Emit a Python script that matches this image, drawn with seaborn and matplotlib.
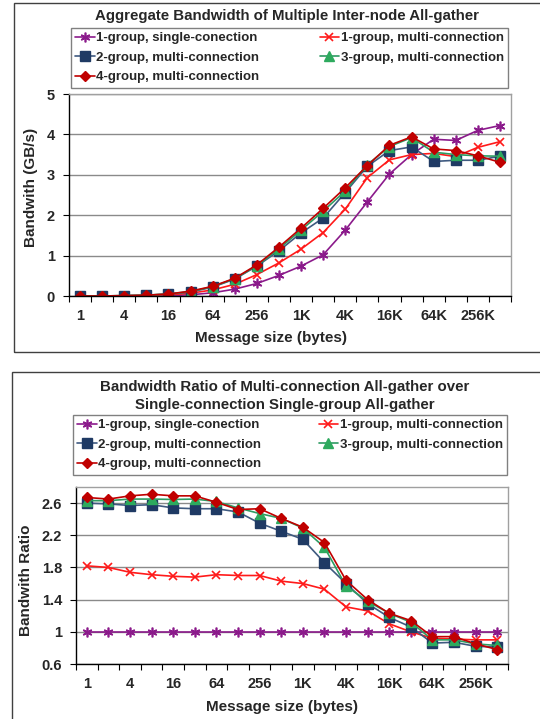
import matplotlib
matplotlib.use("Agg")
import matplotlib.pyplot as plt
import matplotlib.patches as patches
import seaborn as sns
import numpy as np
import pandas as pd

# message sizes (categories) and tick labels
sizes = ['1', '2', '4', '8', '16', '32', '64', '128', '256', '512',
         '1K', '2K', '4K', '8K', '16K', '32K', '64K', '128K', '256K', '512K']
tick_labels = ['1', '4', '16', '64', '256', '1K', '4K', '16K', '64K', '256K']

series_names = ['1-group, single-conection', '1-group, multi-connection',
                '2-group, multi-connection', '3-group, multi-connection',
                '4-group, multi-connection']

# aggregate bandwidth (GB/s)
bw_1g_single = [0.0, 0.0, 0.0, 0.0, 0.01, 0.03, 0.08, 0.17, 0.31, 0.51,
                0.74, 1.02, 1.63, 2.33, 3.02, 3.50, 3.88, 3.85, 4.10, 4.22]
bw_1g_multi = [0.0, 0.0, 0.0, 0.01, 0.03, 0.07, 0.15, 0.29, 0.53, 0.82,
               1.16, 1.57, 2.15, 2.93, 3.37, 3.50, 3.53, 3.45, 3.68, 3.82]
bw_2g_multi = [0.0, 0.0, 0.01, 0.02, 0.05, 0.10, 0.22, 0.42, 0.74, 1.12,
               1.56, 1.93, 2.56, 3.21, 3.60, 3.69, 3.33, 3.36, 3.36, 3.46]
bw_3g_multi = [0.0, 0.0, 0.01, 0.02, 0.05, 0.11, 0.23, 0.43, 0.75, 1.17,
               1.63, 2.10, 2.60, 3.25, 3.70, 3.92, 3.56, 3.50, 3.47, 3.46]
bw_4g_multi = [0.0, 0.0, 0.01, 0.02, 0.05, 0.12, 0.24, 0.44, 0.77, 1.21,
               1.68, 2.17, 2.68, 3.23, 3.73, 3.94, 3.64, 3.60, 3.47, 3.31]

# bandwidth ratio over 1-group single-connection
ratio_1g_single = [1.0] * 20
ratio_1g_multi = [1.82, 1.80, 1.74, 1.71, 1.69, 1.68, 1.71, 1.70, 1.70, 1.63,
                  1.60, 1.53, 1.31, 1.26, 1.10, 1.00, 0.92, 0.91, 0.90, 0.90]
ratio_2g_multi = [2.60, 2.59, 2.57, 2.58, 2.54, 2.53, 2.53, 2.49, 2.35, 2.25,
                  2.15, 1.86, 1.60, 1.35, 1.18, 1.06, 0.86, 0.87, 0.82, 0.81]
ratio_3g_multi = [2.63, 2.63, 2.65, 2.65, 2.645, 2.65, 2.62, 2.54, 2.47, 2.41,
                  2.29, 2.05, 1.57, 1.38, 1.23, 1.12, 0.90, 0.90, 0.85, 0.83]
ratio_4g_multi = [2.67, 2.65, 2.69, 2.71, 2.69, 2.69, 2.61, 2.52, 2.53, 2.41,
                  2.30, 2.11, 1.64, 1.40, 1.23, 1.14, 0.94, 0.94, 0.85, 0.78]

ratio_ticks = [0.6, 1.0, 1.4, 1.8, 2.2, 2.6]
ratio_tick_labels = ['0.6', '1', '1.4', '1.8', '2.2', '2.6']

styles = [
    dict(color='#8B1A8B', marker=(6, 2, 0), ms=7, mfc='#8B1A8B', mec='#8B1A8B', mew=1.2),
    dict(color='#FF1A1A', marker='x', ms=6, mfc='#FF1A1A', mec='#FF1A1A', mew=1.2),
    dict(color='#3F5A80', marker='s', ms=6.5, mfc='#1F3A64', mec='#1F3A64', mew=1),
    dict(color='#2E9B62', marker='^', ms=6.5, mfc='#2EAA5E', mec='#2EAA5E', mew=1),
    dict(color='#C00000', marker='D', ms=5.5, mfc='#C00000', mec='#C00000', mew=1),
]

sns.set_theme(style="white")
plt.rcParams['font.family'] = ['Liberation Sans', 'DejaVu Sans']
plt.rcParams['font.weight'] = 'bold'


def draw_panel(ax, series, ylim, yticks, ytick_labels, ylabel, ylabel_pos, xlabel_pos):
    pos = np.arange(len(sizes))
    for name, vals, st in zip(series_names, series, styles):
        df = pd.DataFrame({'pos': pos, 'value': vals})
        sns.lineplot(data=df, x='pos', y='value', ax=ax, label=name,
                     color=st['color'], marker=st['marker'], markersize=st['ms'],
                     markerfacecolor=st['mfc'], markeredgecolor=st['mec'],
                     markeredgewidth=st['mew'], linewidth=1.2)
    ax.set_xlim(-0.5, len(sizes) - 0.5)
    ax.set_ylim(*ylim)
    ax.set_xticks(pos[::2])
    ax.set_xticklabels(tick_labels, fontsize=10.5, fontweight='bold')
    ax.set_xticks(np.arange(-0.5, len(sizes), 1), minor=True)
    ax.tick_params(axis='x', which='major', length=0, pad=9)
    ax.tick_params(axis='x', which='minor', length=4, width=0.8, color='black',
                   direction='out', bottom=True)
    ax.set_yticks(yticks)
    ax.set_yticklabels(ytick_labels, fontsize=10.5, fontweight='bold')
    ax.tick_params(axis='y', length=4, width=0.8, color='black', direction='out',
                   left=True, pad=6)
    ax.yaxis.grid(True, color='#8a8a8a', linewidth=1)
    ax.xaxis.grid(False)
    for s in ['top', 'right']:
        ax.spines[s].set_color('#a0a0a0')
        ax.spines[s].set_linewidth(1)
    for s in ['left', 'bottom']:
        ax.spines[s].set_color('black')
        ax.spines[s].set_linewidth(1)
    ax.set_ylabel(ylabel, fontsize=11, fontweight='bold')
    ax.yaxis.set_label_coords(*ylabel_pos)
    ax.set_xlabel('Message size (bytes)', fontsize=11, fontweight='bold')
    ax.xaxis.set_label_coords(*xlabel_pos)
    ax.get_legend().remove()


W, H = 540, 719
fig = plt.figure(figsize=(W / 100, H / 100), dpi=100)

# outer boxes
fig.patches.append(patches.Rectangle((14 / W, 1 - 352 / H), 0.99, 349 / H,
                                     transform=fig.transFigure, fill=False,
                                     edgecolor='#404040', linewidth=1))
fig.patches.append(patches.Rectangle((12 / W, -0.05), 0.99, (719 - 372) / H + 0.05,
                                     transform=fig.transFigure, fill=False,
                                     edgecolor='#404040', linewidth=1))

ax1 = fig.add_axes([69 / W, 1 - 296 / H, 442 / W, 202 / H])
draw_panel(ax1, [bw_1g_single, bw_1g_multi, bw_2g_multi, bw_3g_multi, bw_4g_multi],
           (0, 5), [0, 1, 2, 3, 4, 5], ['0', '1', '2', '3', '4', '5'],
           'Bandwith (GB/s)', (-0.07, 0.535), (0.457, -0.172))

ax2 = fig.add_axes([76 / W, 1 - 664 / H, 432 / W, 177 / H])
draw_panel(ax2, [ratio_1g_single, ratio_1g_multi, ratio_2g_multi, ratio_3g_multi, ratio_4g_multi],
           (0.6, 2.8), ratio_ticks, ratio_tick_labels,
           'Bandwith Ratio', (-0.1, 0.475), (0.477, -0.205))

fig.text(287 / W, 1 - 16 / H, 'Aggregate Bandwidth of Multiple Inter-node All-gather',
         ha='center', va='center', fontsize=10.8, fontweight='bold')
fig.text(285 / W, 1 - 387 / H, 'Bandwidth Ratio of Multi-connection All-gather over',
         ha='center', va='center', fontsize=10.8, fontweight='bold')
fig.text(285 / W, 1 - 405 / H, 'Single-connection Single-group All-gather',
         ha='center', va='center', fontsize=10.8, fontweight='bold')


def add_legend(ax, left, top, right, bottom):
    handles, labels = ax.get_legend_handles_labels()
    order = [0, 2, 4, 1, 3]
    leg = fig.legend([handles[i] for i in order], [labels[i] for i in order],
                     loc='upper left', ncol=2, mode='expand',
                     bbox_to_anchor=(left / W, 1 - bottom / H, (right - left) / W, (bottom - top) / H),
                     bbox_transform=fig.transFigure, borderaxespad=0,
                     frameon=True, fancybox=False, framealpha=1, edgecolor='#808080',
                     prop={'size': 9.5, 'weight': 'bold'}, handlelength=1.5,
                     handletextpad=0.1, labelspacing=0.55, borderpad=0.32,
                     columnspacing=1.0)
    leg.get_frame().set_linewidth(1)
    return leg


add_legend(ax1, 71, 28, 508, 85)
add_legend(ax2, 73, 415, 507, 470)

fig.savefig('out.png', dpi=100)
